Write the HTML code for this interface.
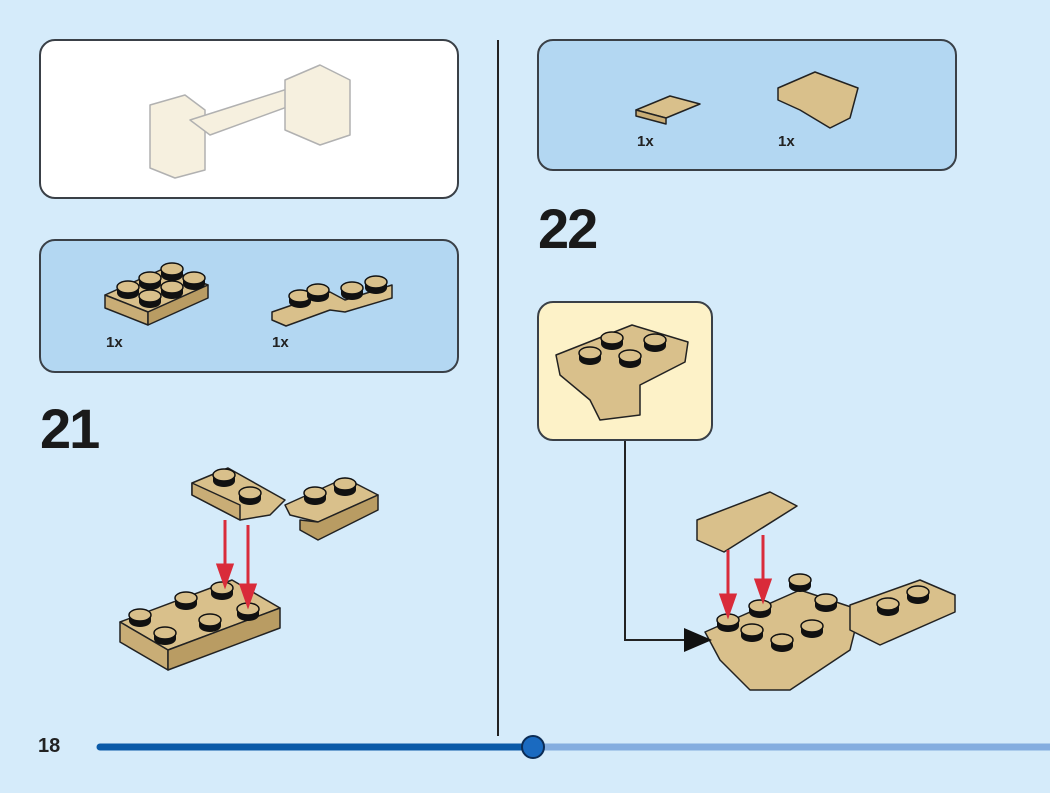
<!DOCTYPE html>
<html><head><meta charset="utf-8"><style>
html,body{margin:0;padding:0}
body{width:1050px;height:793px;background:#d5ebfa;position:relative;overflow:hidden;font-family:"Liberation Sans",sans-serif}
.p{position:absolute;border:2px solid #3a4047;border-radius:16px;box-sizing:border-box}
.n{position:absolute;font-weight:bold;font-size:56px;color:#1a1a1a;letter-spacing:-2px}
.q{position:absolute;font-weight:bold;font-size:15px;color:#222}
</style></head><body>
<div class="p" style="left:39px;top:39px;width:420px;height:160px;background:#fff"></div>
<div class="p" style="left:39px;top:239px;width:420px;height:134px;background:#b3d7f2"></div>
<div class="p" style="left:537px;top:39px;width:420px;height:132px;background:#b3d7f2"></div>
<div class="p" style="left:537px;top:301px;width:176px;height:140px;background:#fdf2c8"></div>
<div style="position:absolute;left:497px;top:40px;width:2px;height:696px;background:#222"></div>
<div class="n" style="left:40px;top:396px">21</div>
<div class="n" style="left:538px;top:196px">22</div>
<div class="q" style="left:106px;top:334px">1x</div>
<div class="q" style="left:272px;top:334px">1x</div>
<div class="q" style="left:637px;top:133px">1x</div>
<div class="q" style="left:778px;top:133px">1x</div>
<div style="position:absolute;left:38px;top:735px;font-weight:bold;font-size:20px;color:#222">18</div>
<svg width="1050" height="793" style="position:absolute;left:0;top:0">
<defs><g id="s"><ellipse cx="0" cy="4" rx="11" ry="6" fill="#111"/><rect x="-11" y="-2" width="22" height="6" fill="#111"/><ellipse cx="0" cy="-2" rx="11" ry="6" fill="#d9c08b" stroke="#111" stroke-width="1.5"/></g></defs>
<g stroke="#222" stroke-width="1.5" stroke-linejoin="round">
<!-- preview faded -->
<g opacity="0.35" fill="#e8d6a6"><polygon points="150,105 185,95 205,110 205,170 175,178 150,168"/><polygon points="190,120 300,85 320,95 210,135"/><polygon points="285,80 320,65 350,80 350,135 320,145 285,130"/></g>
<!-- parts left -->
<polygon points="105,295 165,268 208,285 148,312" fill="#d9c08b"/><polygon points="105,295 148,312 148,325 105,308" fill="#c9ad76"/><polygon points="148,312 208,285 208,298 148,325" fill="#b99c63"/>
<polygon points="272,312 330,292 345,300 392,285 392,298 345,312 330,310 286,326 272,320" fill="#d9c08b"/>
<!-- step 21 bottom plate -->
<polygon points="120,622 232,580 280,608 168,650" fill="#d9c08b"/><polygon points="120,622 168,650 168,670 120,642" fill="#c9ad76"/><polygon points="168,650 280,608 280,628 168,670" fill="#b99c63"/>
<!-- top hinge plate -->
<polygon points="192,483 228,468 285,500 270,515 240,520 192,495" fill="#d9c08b"/><polygon points="192,483 192,495 240,520 240,505" fill="#c9ad76"/>
<polygon points="285,505 345,478 378,495 318,522 290,515" fill="#d9c08b"/><polygon points="300,520 318,522 378,495 378,510 318,540 300,530" fill="#b99c63"/>
<!-- step 22 parts -->
<polygon points="636,110 670,96 700,104 666,118" fill="#d9c08b"/><polygon points="636,110 666,118 666,124 636,116" fill="#c9ad76"/>
<polygon points="778,88 815,72 858,88 850,118 830,128 800,110 778,100" fill="#d9c08b"/>
<!-- callout brick -->
<polygon points="556,355 632,325 688,342 685,362 640,385 640,415 600,420 590,400 560,375" fill="#d9c08b"/>
<!-- step 22 model -->
<polygon points="697,520 770,492 797,506 724,552 697,540" fill="#d9c08b"/>
<polygon points="705,632 800,590 860,610 850,650 790,690 750,690 720,660" fill="#d9c08b"/>
<polygon points="850,605 920,580 955,595 955,612 880,645 850,630" fill="#d9c08b"/>
</g>
<g>
<use href="#s" x="140" y="617"/><use href="#s" x="186" y="600"/><use href="#s" x="222" y="590"/><use href="#s" x="165" y="635"/><use href="#s" x="210" y="622"/><use href="#s" x="248" y="611"/>
<use href="#s" x="224" y="477"/><use href="#s" x="250" y="495"/><use href="#s" x="315" y="495"/><use href="#s" x="345" y="486"/>
<use href="#s" x="128" y="289"/><use href="#s" x="150" y="280"/><use href="#s" x="172" y="271"/><use href="#s" x="150" y="298"/><use href="#s" x="172" y="289"/><use href="#s" x="194" y="280"/>
<use href="#s" x="300" y="298"/><use href="#s" x="318" y="292"/><use href="#s" x="352" y="290"/><use href="#s" x="376" y="284"/>
<use href="#s" x="590" y="355"/><use href="#s" x="612" y="340"/><use href="#s" x="630" y="358"/><use href="#s" x="655" y="342"/>
<use href="#s" x="728" y="622"/><use href="#s" x="760" y="608"/><use href="#s" x="800" y="582"/><use href="#s" x="826" y="602"/><use href="#s" x="752" y="632"/><use href="#s" x="782" y="642"/><use href="#s" x="812" y="628"/><use href="#s" x="888" y="606"/><use href="#s" x="918" y="594"/>
</g>
<g stroke="#d92b3a" stroke-width="3" fill="#d92b3a">
<line x1="225" y1="520" x2="225" y2="570"/><polygon points="218,565 232,565 225,585"/>
<line x1="248" y1="525" x2="248" y2="590"/><polygon points="241,585 255,585 248,605"/>
<line x1="728" y1="550" x2="728" y2="600"/><polygon points="721,595 735,595 728,615"/>
<line x1="763" y1="535" x2="763" y2="585"/><polygon points="756,580 770,580 763,600"/>
</g>
<polyline points="625,441 625,640 688,640" fill="none" stroke="#222" stroke-width="2"/>
<polygon points="684,628 712,640 684,652" fill="#111"/>
<line x1="100" y1="747" x2="533" y2="747" stroke="#0a5aa8" stroke-width="7" stroke-linecap="round"/>
<line x1="533" y1="747" x2="1050" y2="747" stroke="#84addf" stroke-width="7"/>
<circle cx="533" cy="747" r="11" fill="#1a6ac0" stroke="#0b2c55" stroke-width="2"/>
</svg>
</body></html>
